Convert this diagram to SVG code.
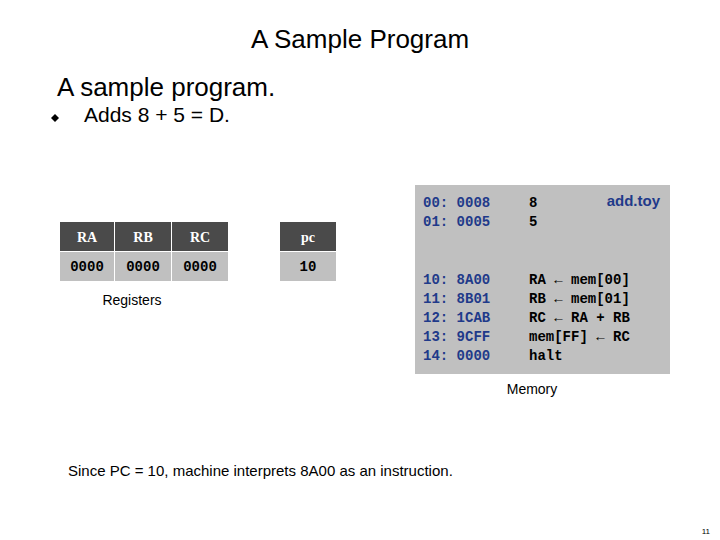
<svg xmlns="http://www.w3.org/2000/svg" width="720" height="540" viewBox="0 0 720 540">
<style>
.h{font-family:"Liberation Serif",serif;font-weight:bold;font-size:14px;fill:#fff;text-anchor:middle}
.v{font-family:"Liberation Mono",monospace;font-weight:bold;font-size:14px;fill:#000;text-anchor:middle}
.m{font-family:"Liberation Mono",monospace;font-weight:bold;font-size:14px;fill:#1f3a8a}
.k{font-family:"Liberation Mono",monospace;font-weight:bold;font-size:14px;fill:#000}
.s{font-family:"Liberation Sans",sans-serif;fill:#000}
</style>
<rect width="720" height="540" fill="#fff"/>
<text x="360" y="48" class="s" font-size="26" text-anchor="middle">A Sample Program</text>
<text x="57" y="96" class="s" font-size="26">A sample program.</text>
<path d="M51,118 l4,-4 4,4 -4,4z" fill="#000"/>
<text x="84" y="122" class="s" font-size="21">Adds 8 + 5 = D.</text>
<g id="registers">
<rect x="60" y="222" width="54" height="29" fill="#4a4a4a"/><rect x="115" y="222" width="56" height="29" fill="#4a4a4a"/><rect x="172" y="222" width="56" height="29" fill="#4a4a4a"/>
<rect x="60" y="252" width="54" height="29" fill="#c0c0c0"/><rect x="115" y="252" width="56" height="29" fill="#c0c0c0"/><rect x="172" y="252" width="56" height="29" fill="#c0c0c0"/>
<text x="87" y="242" class="h">RA</text><text x="143" y="242" class="h">RB</text><text x="200" y="242" class="h">RC</text>
<text x="87" y="271" class="v">0000</text><text x="143" y="271" class="v">0000</text><text x="200" y="271" class="v">0000</text>
<text x="132" y="305" class="s" font-size="14" text-anchor="middle">Registers</text>
</g>
<g id="pc">
<rect x="280" y="222" width="56" height="29" fill="#4a4a4a"/><rect x="280" y="252" width="56" height="29" fill="#c0c0c0"/>
<text x="308" y="242" class="h">pc</text><text x="308" y="271" class="v">10</text>
</g>
<g id="memory">
<rect x="415" y="185" width="255" height="189" fill="#c0c0c0"/>
<text x="423" y="207" class="m">00: 0008</text><text x="423" y="226" class="m">01: 0005</text>
<text x="423" y="284" class="m">10: 8A00</text><text x="423" y="303" class="m">11: 8B01</text><text x="423" y="322" class="m">12: 1CAB</text><text x="423" y="341" class="m">13: 9CFF</text><text x="423" y="360" class="m">14: 0000</text>
<text x="529" y="207" class="k">8</text><text x="529" y="226" class="k">5</text>
<text x="529" y="284" class="k">RA ← mem[00]</text><text x="529" y="303" class="k">RB ← mem[01]</text><text x="529" y="322" class="k">RC ← RA + RB</text><text x="529" y="341" class="k">mem[FF] ← RC</text><text x="529" y="360" class="k">halt</text>
<text x="660" y="206" class="s" font-size="15" font-weight="bold" fill="#1f3a8a" text-anchor="end" style="fill:#1f3a8a">add.toy</text>
<text x="532" y="394" class="s" font-size="14" text-anchor="middle">Memory</text>
</g>
<text x="68" y="476" class="s" font-size="15">Since PC = 10, machine interprets 8A00 as an instruction.</text>
<text x="710" y="534" class="s" font-size="8" text-anchor="end">11</text>
<g id="connectors"/>
</svg>
